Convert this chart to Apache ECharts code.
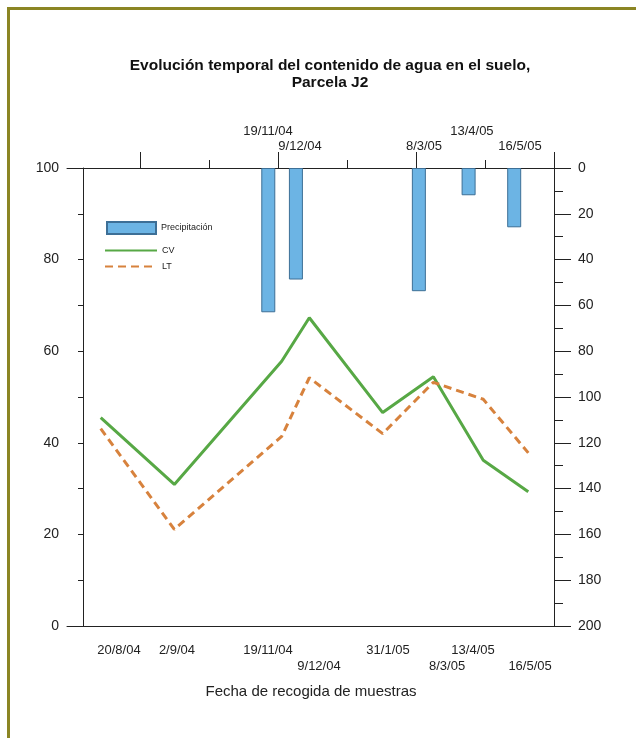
<!DOCTYPE html>
<html>
<head>
<meta charset="utf-8">
<script src="https://cdn.jsdelivr.net/npm/echarts@6/dist/echarts.min.js"></script>
<style>
html,body{margin:0;padding:0;background:#fff;}
#c{width:636px;height:738px;}
</style>
</head>
<body>
<div id="c"></div>
<script>
// x unit: days counted from 18/8/04 on the chart's time scale
var rainDates = ['19/11/04', '9/12/04', '8/3/05', '13/4/05', '16/5/05'];
var rainDays = [93, 113, 202, 238, 271];
var rainValues = [63.0, 48.7, 53.8, 11.9, 25.9];

var sampleDates = ['20/8/04', '2/9/04', '19/11/04', '9/12/04', '31/1/05', '8/3/05', '13/4/05', '16/5/05'];
var sampleX = [-28.3, 25.0, 102.7, 122.7, 175.8, 212.5, 248.6, 281.2];
var cvValues = [45.5, 30.9, 57.8, 67.3, 46.6, 54.4, 36.2, 29.3];
var ltValues = [43.1, 21.1, 41.4, 54.2, 42.0, 53.2, 49.5, 37.8];

var bottomLabelX = [-15.1, 26.9, 92.8, 129.7, 179.7, 222.4, 241.2, 282.5];
var bottomLabelRow = [0, 0, 0, 1, 0, 1, 0, 1];
var topLabelX = [92.8, 116.0, 205.7, 240.4, 275.2];
var topLabelRow = [0, 1, 1, 0, 1];

var topMajorTicks = [0, 100, 200, 300];
var topMinorTicks = [50, 150, 250];
var xMin = -52.7, xMax = 311.4;

var FONT = 'Liberation Sans, Arial, sans-serif';
var chart = echarts.init(document.getElementById('c'));

function pick(xs, rows, row) {
  var out = [];
  for (var i = 0; i < xs.length; i++) if (rows[i] === row) out.push(xs[i]);
  return out;
}
function labelLookup(xs, texts) {
  return function (v) {
    for (var i = 0; i < xs.length; i++) {
      if (Math.abs(xs[i] - v) < 0.01) return texts[i];
    }
    return '';
  };
}

var axisLineStyle = {color: '#222', width: 1};
var tickFont = {fontFamily: FONT, fontSize: 13, color: '#222'};

function xAxisBase(pos) {
  return {type: 'value', position: pos, min: xMin, max: xMax, splitLine: {show: false}};
}

var xAxes = [];
// 0: top axis line, major ticks, lower-row labels (bars)
xAxes.push(Object.assign(xAxisBase('top'), {
  axisLine: {show: true, onZero: false, lineStyle: axisLineStyle},
  axisTick: {show: true, customValues: topMajorTicks, length: 16, lineStyle: axisLineStyle},
  axisLabel: Object.assign({show: true, customValues: pick(topLabelX, topLabelRow, 1), margin: 15, hideOverlap: false,
    formatter: labelLookup(topLabelX, rainDates)}, tickFont)
}));
// 1: top minor ticks, upper-row labels
xAxes.push(Object.assign(xAxisBase('top'), {
  axisLine: {show: false, onZero: false},
  axisTick: {show: true, customValues: topMinorTicks, length: 8, lineStyle: axisLineStyle},
  axisLabel: Object.assign({show: true, customValues: pick(topLabelX, topLabelRow, 0), margin: 30, hideOverlap: false,
    formatter: labelLookup(topLabelX, rainDates)}, tickFont)
}));
// 2: bottom axis line (lines), upper-row labels, axis title
xAxes.push(Object.assign(xAxisBase('bottom'), {
  axisLine: {show: true, onZero: false, lineStyle: axisLineStyle},
  axisTick: {show: false},
  axisLabel: Object.assign({show: true, customValues: pick(bottomLabelX, bottomLabelRow, 0), margin: 18, hideOverlap: false,
    formatter: labelLookup(bottomLabelX, sampleDates)}, tickFont),
  name: 'Fecha de recogida de muestras', nameLocation: 'middle', nameGap: 58,
  nameTextStyle: {fontFamily: FONT, fontSize: 15, color: '#222', padding: [0, 15, 0, 0]}
}));
// 3: bottom lower-row labels
xAxes.push(Object.assign(xAxisBase('bottom'), {
  axisLine: {show: false, onZero: false},
  axisTick: {show: false},
  axisLabel: Object.assign({show: true, customValues: pick(bottomLabelX, bottomLabelRow, 1), margin: 34, hideOverlap: false,
    formatter: labelLookup(bottomLabelX, sampleDates)}, tickFont)
}));

chart.setOption({
  backgroundColor: '#ffffff',
  animation: false,
  textStyle: {fontFamily: FONT},
  title: {
    text: 'Evolución temporal del contenido de agua en el suelo,\nParcela J2',
    left: 325, top: 52, textAlign: 'center',
    textStyle: {fontFamily: FONT, fontSize: 15.5, fontWeight: 'bold', color: '#111', lineHeight: 17}
  },
  graphic: [
    {type: 'rect', shape: {x: 7, y: 7, width: 629, height: 3}, style: {fill: '#8b8523'}},
    {type: 'rect', shape: {x: 7, y: 7, width: 3, height: 731}, style: {fill: '#8b8523'}}
  ],
  legend: [
    {
      data: [{name: 'Precipitación', icon: 'rect'}], left: 101, top: 216, itemWidth: 49, itemHeight: 12,
      textStyle: {fontFamily: FONT, fontSize: 9, color: '#222'}
    },
    {
      data: ['CV', 'LT'], orient: 'vertical', left: 99, top: 241, itemWidth: 52, itemHeight: 10, itemGap: 7,
      itemStyle: {opacity: 0},
      textStyle: {fontFamily: FONT, fontSize: 9, color: '#222'}
    }
  ],
  grid: {left: 67, right: 66, top: 168, bottom: 112},
  xAxis: xAxes,
  yAxis: [
    {
      type: 'value', position: 'left', offset: -16, min: 0, max: 100, interval: 20,
      axisLine: {show: true, onZero: false, lineStyle: axisLineStyle},
      axisTick: {show: true, length: 5, lineStyle: axisLineStyle},
      minorTick: {show: true, splitNumber: 2, length: 5, lineStyle: axisLineStyle},
      axisLabel: {margin: 24, fontFamily: FONT, fontSize: 14, color: '#222'},
      splitLine: {show: false}
    },
    {
      type: 'value', position: 'right', offset: -16, inverse: true, min: 0, max: 200, interval: 20,
      axisLine: {show: true, onZero: false, lineStyle: axisLineStyle},
      axisTick: {show: true, length: 17, lineStyle: axisLineStyle},
      minorTick: {show: true, splitNumber: 2, length: 9, lineStyle: axisLineStyle},
      axisLabel: {margin: 24, fontFamily: FONT, fontSize: 14, color: '#222'},
      splitLine: {show: false}
    }
  ],
  series: [
    {
      name: 'Precipitación', type: 'bar', xAxisIndex: 0, yAxisIndex: 1, barWidth: 14,
      itemStyle: {color: '#6cb4e4', borderColor: '#3d6f96', borderWidth: 1},
      data: rainDays.map(function (d, i) { return [d, rainValues[i]]; })
    },
    {
      name: 'CV', type: 'line', xAxisIndex: 2, yAxisIndex: 0, symbol: 'none',
      lineStyle: {color: '#57a845', width: 3},
      itemStyle: {color: '#57a845'},
      data: sampleX.map(function (x, i) { return [x, cvValues[i]]; })
    },
    {
      name: 'LT', type: 'line', xAxisIndex: 2, yAxisIndex: 0, symbol: 'none',
      lineStyle: {color: '#d7823d', width: 3, type: [8, 5]},
      itemStyle: {color: '#d7823d'},
      data: sampleX.map(function (x, i) { return [x, ltValues[i]]; })
    }
  ]
});
</script>
</body>
</html>
